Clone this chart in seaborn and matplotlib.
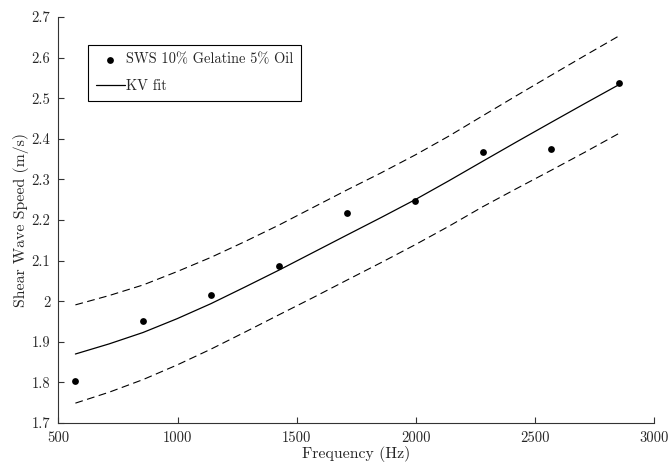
import numpy as np
import pandas as pd
import matplotlib
matplotlib.use("Agg")
import matplotlib.pyplot as plt
import seaborn as sns

# Measured shear wave speed
freq = [571, 855, 1140, 1427, 1711, 1997, 2282, 2567, 2852]
sws = [1.804, 1.951, 2.016, 2.087, 2.218, 2.246, 2.368, 2.376, 2.537]

# KV fit and its bounds
fit_freq = [571, 713, 855, 998, 1140, 1283, 1427, 1569, 1711,
            1854, 1997, 2140, 2282, 2425, 2567, 2710, 2852]
fit = [1.870, 1.895, 1.923, 1.957, 1.994, 2.035, 2.077, 2.120, 2.163,
       2.206, 2.250, 2.297, 2.345, 2.393, 2.440, 2.487, 2.533]
fit_upper = [1.991, 2.014, 2.040, 2.073, 2.108, 2.147, 2.188, 2.231, 2.274,
             2.316, 2.360, 2.407, 2.457, 2.507, 2.556, 2.605, 2.653]
fit_lower = [1.749, 1.776, 1.807, 1.843, 1.882, 1.924, 1.967, 2.009, 2.052,
             2.095, 2.139, 2.185, 2.233, 2.278, 2.322, 2.367, 2.413]

x_ticks = [500, 1000, 1500, 2000, 2500, 3000]
y_ticks = [1.7, 1.8, 1.9, 2.0, 2.1, 2.2, 2.3, 2.4, 2.5, 2.6, 2.7]
y_tick_labels = ["1.7", "1.8", "1.9", "2", "2.1", "2.2", "2.3", "2.4", "2.5", "2.6", "2.7"]

sns.set_style("ticks")
plt.rcParams["font.family"] = ["cmr10", "DejaVu Serif"]
plt.rcParams["axes.formatter.use_mathtext"] = True
plt.rcParams["font.size"] = 10

df_pts = pd.DataFrame({"f": freq, "v": sws})
df_fit = pd.DataFrame({"f": fit_freq, "v": fit, "up": fit_upper, "lo": fit_lower})

fig = plt.figure(figsize=(6.7, 4.69), dpi=100)
ax = fig.add_axes([0.0873, 0.098, 0.8888, 0.8658])

sns.scatterplot(data=df_pts, x="f", y="v", ax=ax, color="black", s=24,
                edgecolor="black", linewidth=0, label="SWS 10% Gelatine 5% Oil", zorder=3)
sns.lineplot(data=df_fit, x="f", y="v", ax=ax, color="black", lw=0.9,
             label="KV fit", zorder=2)
sns.lineplot(data=df_fit, x="f", y="up", ax=ax, color="black", lw=0.8,
             legend=False, zorder=2).lines[-1].set_dashes((7, 4))
sns.lineplot(data=df_fit, x="f", y="lo", ax=ax, color="black", lw=0.8,
             legend=False, zorder=2).lines[-1].set_dashes((7, 4))

ax.set_xlim(500, 3000)
ax.set_ylim(1.7, 2.7)
ax.set_xticks(x_ticks)
ax.set_xticklabels([str(t) for t in x_ticks])
ax.set_yticks(y_ticks)
ax.set_yticklabels(y_tick_labels)
ax.tick_params(direction="in", length=4, width=0.8, color="#333333", pad=6,
               labelsize=10.5)
for side in ["top", "right"]:
    ax.spines[side].set_visible(False)
for side in ["left", "bottom"]:
    ax.spines[side].set_linewidth(0.8)
    ax.spines[side].set_color("#333333")

ax.set_xlabel("Frequency (Hz)", fontsize=11.4, labelpad=1)
ax.set_ylabel("Shear Wave Speed (m/s)", fontsize=11.4, labelpad=2)

leg = ax.legend(loc="upper left", bbox_to_anchor=(0.0495, 0.931), borderaxespad=0,
                frameon=True, fancybox=False, edgecolor="black", framealpha=1,
                handlelength=2.0, handletextpad=0.1, labelspacing=0.85,
                borderpad=0.55, fontsize=10.4)
leg.get_frame().set_linewidth(0.8)

fig.savefig("out.png", dpi=100)
